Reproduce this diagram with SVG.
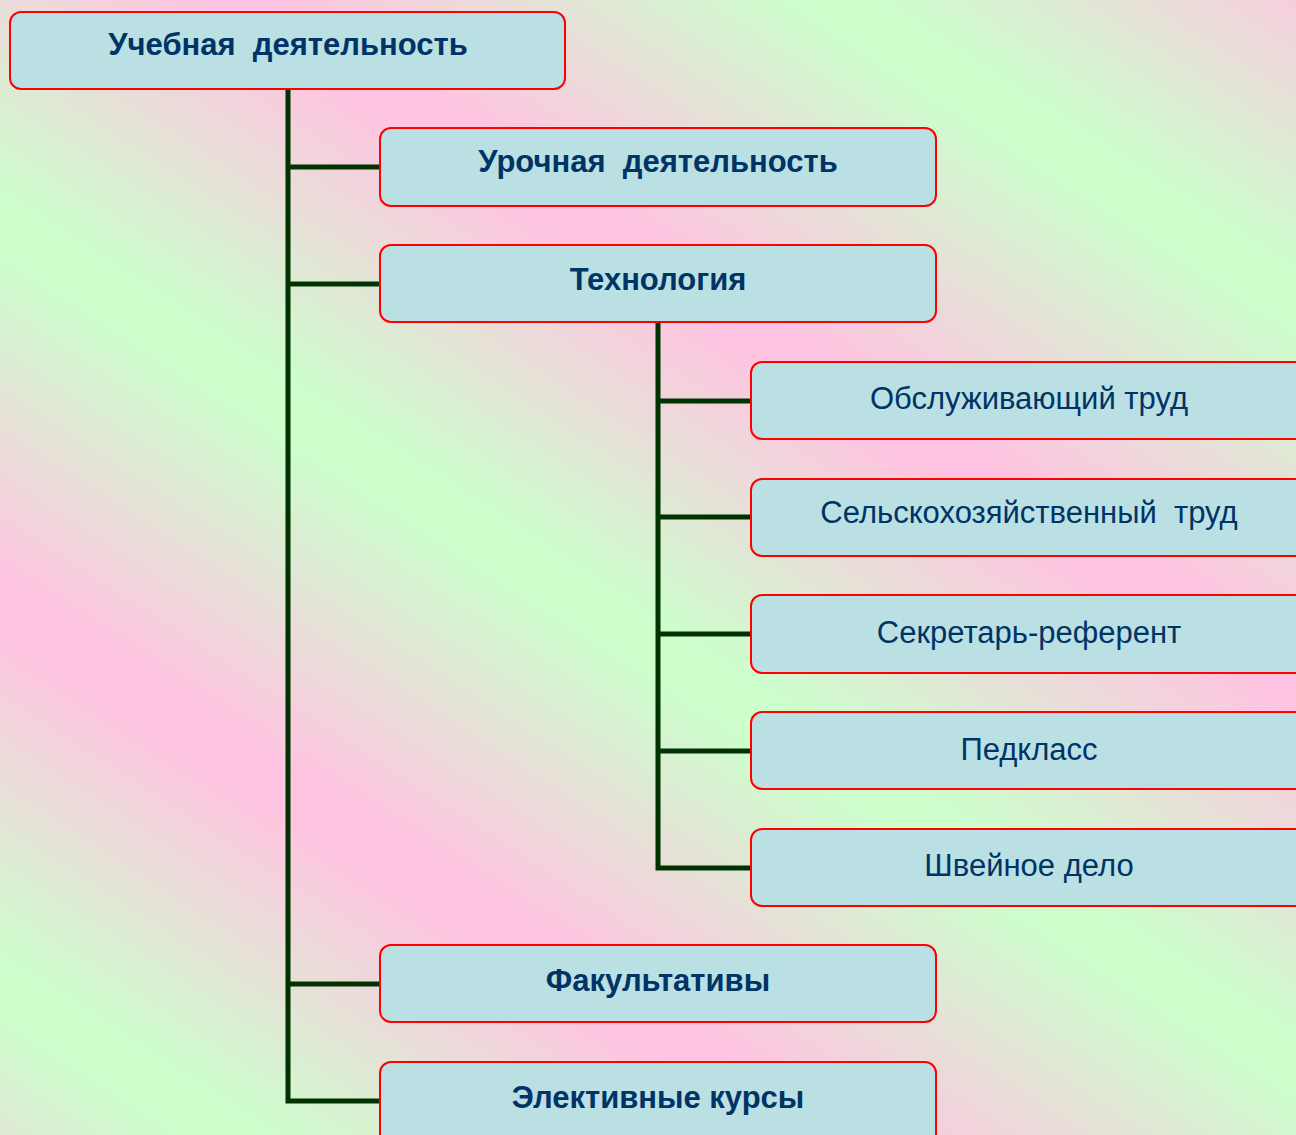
<svg xmlns="http://www.w3.org/2000/svg" width="1296" height="1135" viewBox="0 0 1296 1135">
<defs>
<linearGradient id="bg" gradientUnits="userSpaceOnUse" x1="72.5" y1="-111.6" x2="-101.9" y2="156.9" spreadMethod="reflect">
<stop offset="0" stop-color="#FFC4E1"/>
<stop offset="0.06" stop-color="#FFC4E1"/>
<stop offset="0.94" stop-color="#CCFFCC"/>
<stop offset="1" stop-color="#CCFFCC"/>
</linearGradient>
<style>
.box{fill:#BAE0E3;stroke:#FF0000;stroke-width:2}
.b{font-family:"Liberation Sans",Arial,sans-serif;font-weight:bold;font-size:31px;fill:#003366;text-anchor:middle;white-space:pre}
.n{font-family:"Liberation Sans",Arial,sans-serif;font-size:31px;fill:#003366;text-anchor:middle;white-space:pre}
.c{fill:none;stroke:#003300;stroke-width:5}
</style>
</defs>
<rect width="1296" height="1135" fill="url(#bg)"/>
<g id="connectors">
<path class="c" d="M288 89 V1101 H380 M288 167 H380 M288 284 H380 M288 984 H380"/>
<path class="c" d="M658 322 V868 H750 M658 401 H750 M658 517 H750 M658 634 H750 M658 751 H750"/>
</g>
<g id="n1"><rect class="box" x="10" y="12" width="555" height="77" rx="11"/><text class="b" x="288" y="55">Учебная  деятельность</text></g>
<g id="n2"><rect class="box" x="380" y="128" width="556" height="78" rx="11"/><text class="b" x="658" y="172">Урочная  деятельность</text></g>
<g id="n3"><rect class="box" x="380" y="245" width="556" height="77" rx="11"/><text class="b" x="658" y="290">Технология</text></g>
<g id="n4"><rect class="box" x="751" y="362" width="570" height="77" rx="11"/><text class="n" x="1029" y="409">Обслуживающий труд</text></g>
<g id="n5"><rect class="box" x="751" y="479" width="570" height="77" rx="11"/><text class="n" x="1029" y="523">Сельскохозяйственный  труд</text></g>
<g id="n6"><rect class="box" x="751" y="595" width="570" height="78" rx="11"/><text class="n" x="1029" y="643">Секретарь-референт</text></g>
<g id="n7"><rect class="box" x="751" y="712" width="570" height="77" rx="11"/><text class="n" x="1029" y="760">Педкласс</text></g>
<g id="n8"><rect class="box" x="751" y="829" width="570" height="77" rx="11"/><text class="n" x="1029" y="876">Швейное дело</text></g>
<g id="n9"><rect class="box" x="380" y="945" width="556" height="77" rx="11"/><text class="b" x="658" y="991">Факультативы</text></g>
<g id="n10"><rect class="box" x="380" y="1062" width="556" height="90" rx="11"/><text class="b" x="658" y="1108">Элективные курсы</text></g>
</svg>
